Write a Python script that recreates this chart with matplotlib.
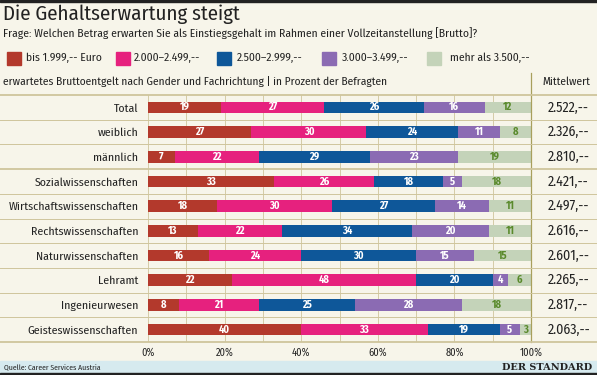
import numpy as np
import matplotlib
matplotlib.use('Agg')
from matplotlib import pyplot as plt
from matplotlib.patches import Rectangle
from matplotlib.lines import Line2D
from matplotlib import font_manager

installed = {f.name for f in font_manager.fontManager.ttflist}
prefs = ['Fira Sans Condensed', 'Encode Sans Condensed', 'Asap Condensed',
         'Archivo Narrow', 'Barlow Semi Condensed', 'DejaVu Sans']
main_font = next(f for f in prefs if f in installed)
plt.rcParams['font.family'] = [main_font, 'DejaVu Sans']

categories = ['Total', 'weiblich', 'männlich', 'Sozialwissenschaften',
              'Wirtschaftswissenschaften', 'Rechtswissenschaften',
              'Naturwissenschaften', 'Lehramt', 'Ingenieurwesen',
              'Geisteswissenschaften']
bis1999 = [19, 27, 7, 33, 18, 13, 16, 22, 8, 40]
s2000 = [27, 30, 22, 26, 30, 22, 24, 48, 21, 33]
s2500 = [26, 24, 29, 18, 27, 34, 30, 20, 25, 19]
s3000 = [16, 11, 23, 5, 14, 20, 15, 4, 28, 5]
ueber3500 = [12, 8, 19, 18, 11, 11, 15, 6, 18, 3]
mittelwert = ['2.522,--', '2.326,--', '2.810,--', '2.421,--', '2.497,--',
              '2.616,--', '2.601,--', '2.265,--', '2.817,--', '2.063,--']
legend_labels = ['bis 1.999,-- Euro', '2.000–2.499,--', '2.500–2.999,--',
                 '3.000–3.499,--', 'mehr als 3.500,--']
ticks = [0, 20, 40, 60, 80, 100]

colors = ['#b3392c', '#e6217e', '#0e5799', '#8b6bb3', '#c4d3b9']
bg = '#f7f5ea'
line_c = '#cfc59c'
txt = '#222222'

W, H = 597, 375
fig = plt.figure(figsize=(W / 100, H / 100), dpi=100, facecolor=bg)

def fx(x):
    return x / W

def fy(y):
    return 1 - y / H

# top border and footer
fig.add_artist(Rectangle((0, fy(2)), 1, 2 / H, color='#222222', transform=fig.transFigure))
fig.add_artist(Rectangle((0, 0), 1, fy(361), color='#d6eaef', transform=fig.transFigure))
fig.add_artist(Rectangle((0, 0), 1, 2 / H, color='#222222', transform=fig.transFigure))

fig.text(fx(3), fy(14), 'Die Gehaltserwartung steigt', fontsize=15, color=txt, va='center')
fig.text(fx(3), fy(33), 'Frage: Welchen Betrag erwarten Sie als Einstiegsgehalt im Rahmen einer Vollzeitanstellung [Brutto]?',
         fontsize=8.3, color=txt, va='center')

# legend
leg_x = [7, 116, 217, 322, 427]
txt_x = [26, 134, 237, 342, 450]
for lx, tx, c, lab in zip(leg_x, txt_x, colors, legend_labels):
    fig.add_artist(Rectangle((fx(lx), fy(65)), 14 / W, 13 / H, color=c, transform=fig.transFigure))
    fig.text(fx(tx), fy(58), lab, fontsize=8.3, color=txt, va='center')

fig.text(fx(3), fy(82), 'erwartetes Bruttoentgelt nach Gender und Fachrichtung | in Prozent der Befragten',
         fontsize=8.2, color=txt, va='center')
fig.text(fx(542), fy(82), 'Mittelwert', fontsize=8.2, color=txt, va='center')
fig.add_artist(Line2D([fx(531), fx(531)], [fy(73), fy(342)], color='#a89f5c', lw=0.9))

# horizontal separators
n = len(categories)
top, bot = 95, 342
x0, x1 = 148, 531
step = (bot - top) / n
for i in range(n + 1):
    y = top + i * step
    lw = 1.3 if i in (0, 3, n) else 0.7
    fig.add_artist(Line2D([0, 1], [fy(y), fy(y)], color=line_c, lw=lw))

ax = fig.add_axes([fx(x0), fy(bot), (x1 - x0) / W, (bot - top) / H])
ax.set_facecolor('none')
for s in ax.spines.values():
    s.set_visible(False)
ax.set_xlim(0, 100)
ax.set_ylim(n - 0.5, -0.5)
for x in range(0, 101, 10):
    ax.axvline(x, color=line_c, lw=0.6, zorder=0)

series = [bis1999, s2000, s2500, s3000, ueber3500]
y = np.arange(n)
left = np.zeros(n)
for k, (vals, c) in enumerate(zip(series, colors)):
    vals = np.array(vals)
    ax.barh(y, vals, left=left, height=0.47, color=c, zorder=2)
    for yi, l, v in zip(y, left, vals):
        tc = '#5a8a2c' if k == 4 else 'white'
        ax.text(l + v / 2, yi, str(v), ha='center', va='center', fontsize=7.5,
                color=tc, fontweight='bold', zorder=3)
    left = left + vals

ax.set_yticks(y)
ax.set_yticklabels(categories, fontsize=8.5, color=txt)
ax.set_xticks(ticks)
ax.set_xticklabels([f'{t}%' for t in ticks], fontsize=7.5, color=txt)
ax.tick_params(length=0, pad=4)
ax.tick_params(axis='y', pad=7)

for yi, m in zip(y, mittelwert):
    ax.text(104.4, yi, m, ha='left', va='center', fontsize=10, color=txt, clip_on=False)

fig.text(fx(4), fy(367), 'Quelle: Career Services Austria', fontsize=5.5, color=txt, va='center')
fig.text(fx(592), fy(367), 'DER STANDARD', fontsize=7, color=txt, va='center', ha='right',
         family=['DejaVu Serif'], fontweight='bold')

fig.savefig('out.png', dpi=100, facecolor=bg)
